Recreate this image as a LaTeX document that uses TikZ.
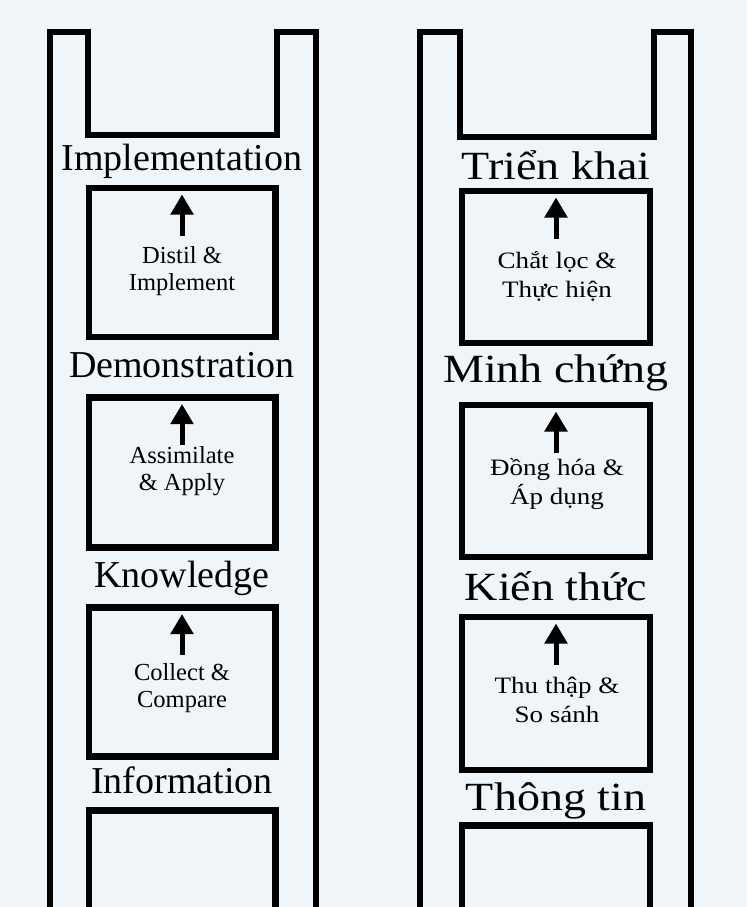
\documentclass[tikz,border=0pt]{standalone}
\usepackage{fontspec}
\setmainfont{Liberation Serif}
\newfontfamily\widefont[FakeStretch=1.15]{Liberation Serif}
\usetikzlibrary{arrows.meta}
\definecolor{paper}{RGB}{240,245,249}

\begin{document}
\begin{tikzpicture}[x = 1pt, y = -1pt,
    rail/.style = {line width = 6pt, line join = miter},
    rung/.style = {draw, line width = 6.5pt, inner sep = 0pt, anchor = north},
    stage/.style = {anchor = base, inner sep = 0pt, font = \fontsize{38}{40}\selectfont},
    widestage/.style = {anchor = base, inner sep = 0pt, font = \widefont\fontsize{40}{42}\selectfont},
    action/.style = {anchor = base, align = center, inner sep = 0pt, font = \fontsize{24.5}{27}\selectfont},
    wideaction/.style = {anchor = base, align = center, inner sep = 0pt, font = \widefont\fontsize{23.5}{29}\selectfont},
    lift/.style = {line width = 5pt, -{Triangle[length = 20pt, width = 22pt]}}]

        % draws the paper
        \fill[paper] (0,0) rectangle (747,907);
        \clip (0,0) rectangle (747,907);

        % draws the two ladders
        \draw[rail]
          (50,930) -- (50,32) -- (88,32) -- (88,135) -- (277,135) -- (277,32) -- (316,32) -- (316,930);
        \draw[rail]
          (420,930) -- (420,32) -- (460,32) -- (460,137) -- (654,137) -- (654,32) -- (691,32) -- (691,930);

        % draws the rungs
        \foreach \n/\y/\h in {L1/184.5/149, L2/394/150, L3/604/149, L4/807/160}
          \node[rung, minimum width = 186.5pt, minimum height = \h pt] (\n) at (182,\y) {};
        \foreach \n/\y/\h in {R1/187.5/152, R2/401.5/152, R3/613.5/153, R4/822/160}
          \node[rung, minimum width = 188pt, minimum height = \h pt] (\n) at (556,\y) {};

        % draws the stage names
        \foreach \n/\y/\txt in {Ls1/170/Implementation, Ls2/377/Demonstration,
                                Ls3/587/Knowledge, Ls4/793/Information}
          \node[stage] (\n) at (182,\y) {\txt};
        \foreach \n/\y/\txt in {Rs1/179/Triển khai, Rs2/382/Minh chứng,
                                Rs3/600/Kiến thức, Rs4/810/Thông tin}
          \node[widestage] (\n) at (556,\y) {\txt};

        % draws the steps between stages (y is the second line)
        \foreach \n/\y/\txt in {La1/290/{Distil \&\\Implement}, La2/490/{Assimilate\\\& Apply},
                                La3/707/{Collect \&\\Compare}}
          \node[action] (\n) at (182,\y) {\txt};
        \foreach \n/\y/\txt in {Ra1/297/{Chắt lọc \&\\Thực hiện}, Ra2/504/{Đồng hóa \&\\Áp dụng},
                                Ra3/722/{Thu thập \&\\So sánh}}
          \node[wideaction] (\n) at (557,\y) {\txt};

        % draws the arrows
        \foreach \n in {L1, L2, L3, R1, R2, R3}
          \draw[lift] ([yshift = -51pt]\n.north) -- ([yshift = -10pt]\n.north);
      \end{tikzpicture}
\end{document}
